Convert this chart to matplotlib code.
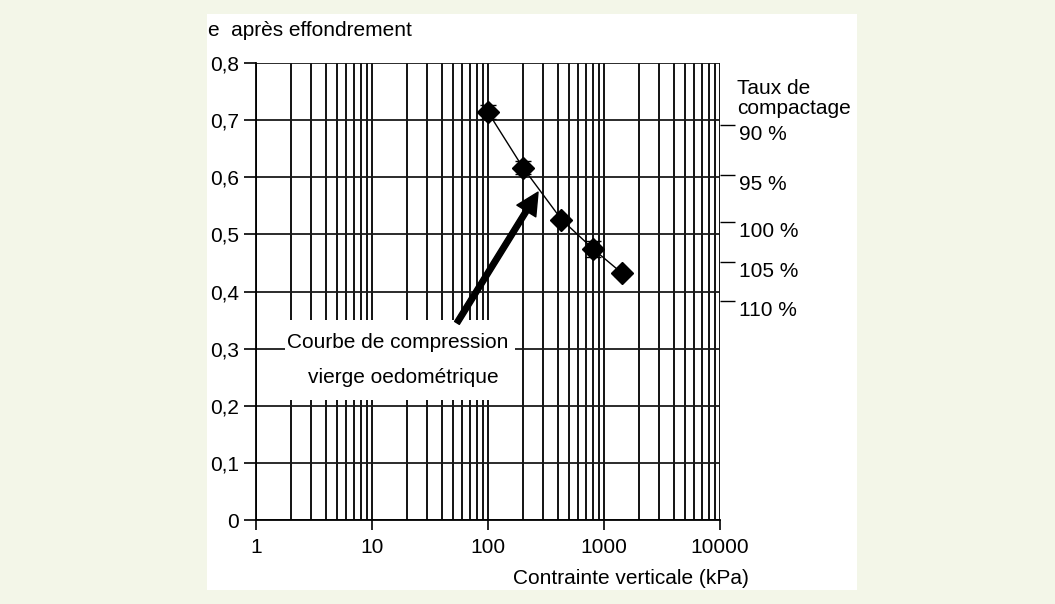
import numpy as np
import matplotlib.pyplot as plt
from matplotlib.patches import Rectangle

plt.rcParams['font.family'] = ['Liberation Sans', 'DejaVu Sans']
FS = 15

# data
contrainte = [100, 200, 430, 800, 1430]           # kPa
e_apres    = [0.714, 0.617, 0.526, 0.475, 0.432]
e_err      = [0.012, 0.012, 0.004, 0.014, 0.004]

compactage_e      = [0.691, 0.604, 0.522, 0.452, 0.383]
compactage_labels = ['90 %', '95 %', '100 %', '105 %', '110 %']

y_ticks  = np.arange(0, 0.81, 0.1)
y_labels = ['0', '0,1', '0,2', '0,3', '0,4', '0,5', '0,6', '0,7', '0,8']
x_ticks  = [1, 10, 100, 1000, 10000]


fig = plt.figure(figsize=(10.55, 6.04), dpi=100)
fig.patch.set_facecolor('#f3f6e8')
fig.patches.append(Rectangle((207/1055, 1-590/604), 650/1055, 576/604,
                             transform=fig.transFigure, fc='white', ec='none', zorder=-5))

ax = fig.add_axes([256/1055, 1-520/604, 464/1055, 457/604])
ax.set_facecolor('none')
ax.set_xscale('log')
ax.set_xlim(1, 10000)
ax.set_ylim(0, 0.8)
ax.set_axisbelow(True)

ax.set_xticks(x_ticks, [str(v) for v in x_ticks])
ax.set_xticks([m*10**k for k in range(4) for m in range(2, 10)], minor=True)
ax.set_yticks(y_ticks, y_labels)
ax.tick_params(axis='x', which='major', length=7, width=1.2, pad=6, labelsize=FS)
ax.tick_params(axis='x', which='minor', length=0, labelbottom=False)
ax.tick_params(axis='y', length=9, width=1.2, pad=3, labelsize=FS)
ax.grid(True, which='both', axis='x', color='black', lw=1.3)
ax.grid(True, which='major', axis='y', color='#1a1a1a', lw=1.3)
for s in ['top', 'right']:
    ax.spines[s].set_visible(False)
for s in ['left', 'bottom']:
    ax.spines[s].set_linewidth(1.3)

# white label box masking the grid
ax.add_patch(Rectangle((1.78, 0.21), 171-1.78, 0.14, fc='white', ec='none', zorder=1))
ax.text(16.7, 0.311, 'Courbe de compression', ha='center', va='center', fontsize=FS, zorder=3)
ax.text(18.5, 0.249, 'vierge oedométrique', ha='center', va='center', fontsize=FS, zorder=3)

ax.annotate('', xy=(270, 0.574), xytext=(54, 0.345),
            arrowprops=dict(facecolor='black', edgecolor='black', width=4,
                            headwidth=16, headlength=16, shrink=0), zorder=4)

ax.plot(contrainte, e_apres, color='black', lw=1, zorder=3)
ax.errorbar(contrainte, e_apres, yerr=e_err, fmt='D', color='black', ms=11.5,
            capsize=6, elinewidth=1, capthick=1, zorder=4)

ax2 = ax.twinx()
ax2.set_ylim(0, 0.8)
ax2.set_yticks(compactage_e, compactage_labels)
ax2.tick_params(axis='y', length=11, width=1, pad=3, labelsize=FS, colors='black')
for lab in ax2.get_yticklabels():
    lab.set_verticalalignment('top')
for tl in ax2.yaxis.get_major_ticks()[2:]:
    tl.tick2line.set_color('#555555')
for s in ax2.spines.values():
    s.set_visible(False)

fig.text(737/1055, 1-88/604, 'Taux de', ha='left', va='center', fontsize=FS)
fig.text(737/1055, 1-108/604, 'compactage', ha='left', va='center', fontsize=FS)
fig.text(208/1055, 1-30/604, 'e  après effondrement', ha='left', va='center', fontsize=FS)
fig.text(749/1055, 1-578/604, 'Contrainte verticale (kPa)', ha='right', va='center', fontsize=FS)

fig.savefig('out.png', dpi=100, facecolor=fig.get_facecolor())
